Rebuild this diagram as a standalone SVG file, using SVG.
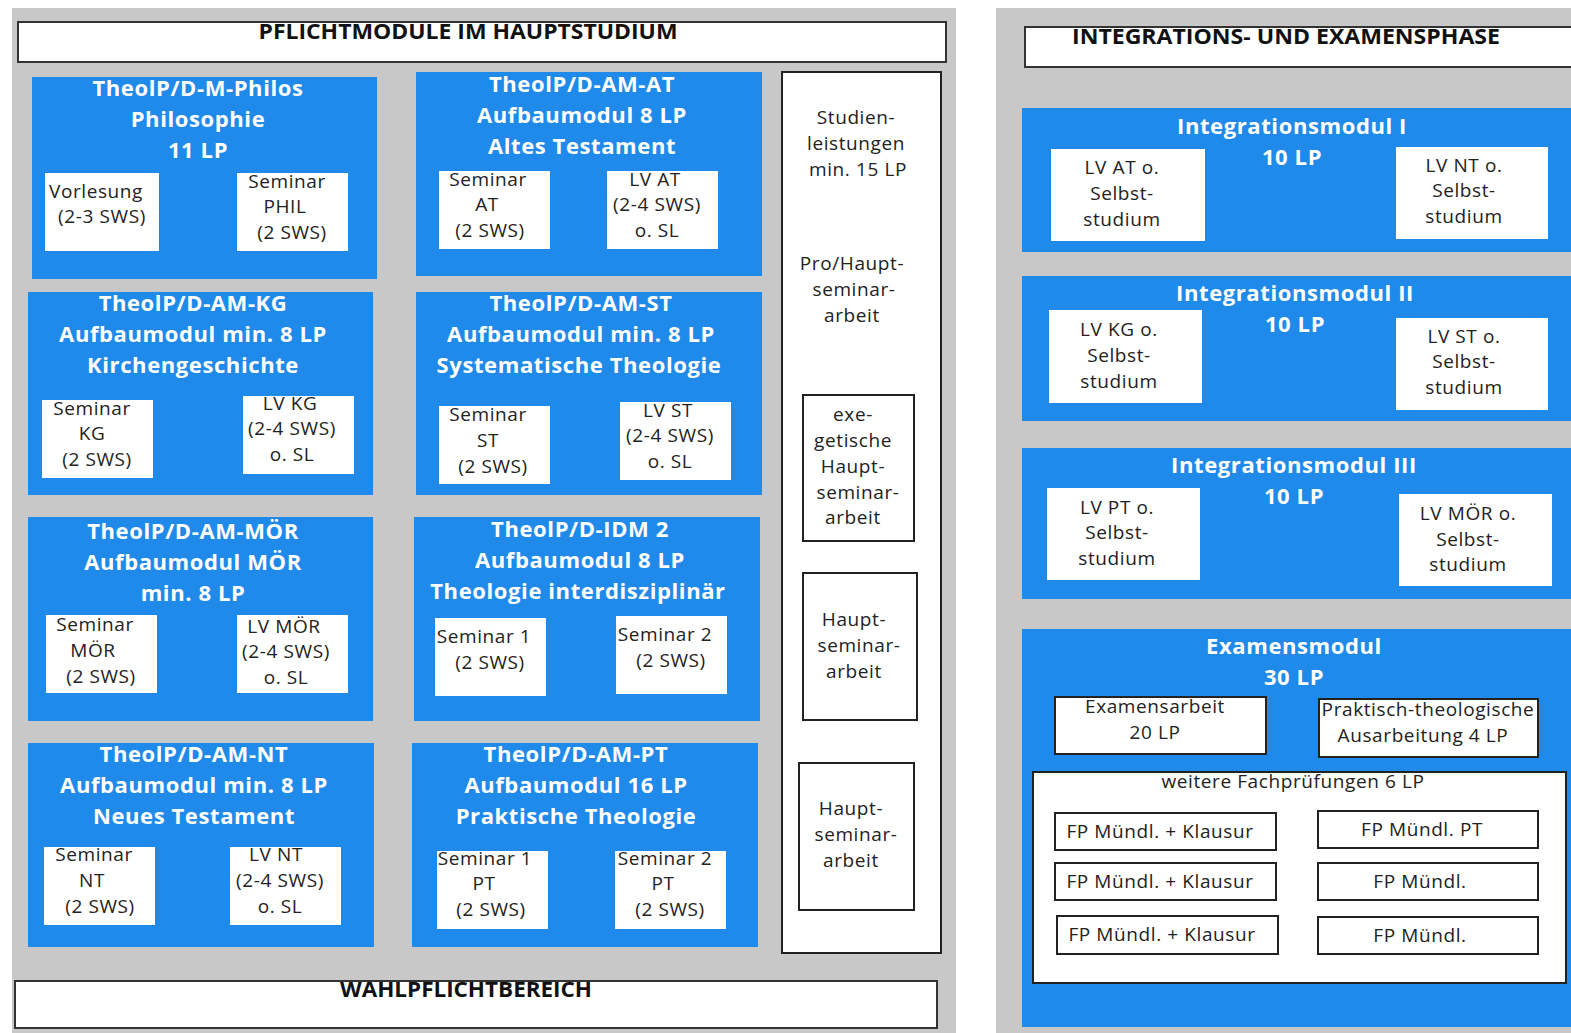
<svg xmlns="http://www.w3.org/2000/svg" width="1571" height="1033" viewBox="0 0 1571 1033">
<style>
.bg{fill:#c8c8c8}
.hdr{fill:#fff;stroke:#333;stroke-width:2}
.mod{fill:#1f8aea}
.wb{fill:#fff}
.bb{fill:#fff;stroke:#222;stroke-width:2}
text{font-family:"Open Sans","Liberation Sans",sans-serif;text-anchor:middle}
.ht{font-size:22px;font-weight:bold;fill:#111}
.mt{font-size:22px;font-weight:bold;fill:#fff;letter-spacing:0.6px}
.st{font-size:19px;fill:#222;letter-spacing:0.6px}
</style>
<rect width="1571" height="1033" fill="#fff"/>
<rect class="bg" x="12" y="8" width="944" height="1025"/>
<rect class="bg" x="996" y="8" width="575" height="1025"/>

<g id="header-pflicht">
<rect class="hdr" x="18" y="22" width="928" height="40"/>
<text class="ht" x="468" y="39" textLength="419" lengthAdjust="spacingAndGlyphs">PFLICHTMODULE IM HAUPTSTUDIUM</text>
</g>
<g id="header-integration">
<rect class="hdr" x="1025" y="27" width="560" height="40"/>
<text class="ht" x="1286" y="44" textLength="428" lengthAdjust="spacingAndGlyphs">INTEGRATIONS- UND EXAMENSPHASE</text>
</g>
<g id="header-wahlpflicht">
<rect class="hdr" x="15" y="981" width="922" height="47"/>
<text class="ht" x="466" y="997" textLength="252" lengthAdjust="spacingAndGlyphs">WAHLPFLICHTBEREICH</text>
</g>

<g id="mod-philos">
<rect class="mod" x="32" y="77" width="345" height="202"/>
<text class="mt" x="198" y="96">TheolP/D-M-Philos</text>
<text class="mt" x="198" y="127">Philosophie</text>
<text class="mt" x="198" y="158">11 LP</text>
<rect class="wb" x="45" y="173" width="114" height="78"/>
<text class="st" x="96" y="198">Vorlesung</text>
<text class="st" x="102" y="223">(2-3 SWS)</text>
<rect class="wb" x="237" y="173" width="111" height="78"/>
<text class="st" x="287" y="188">Seminar</text>
<text class="st" x="285" y="213">PHIL</text>
<text class="st" x="292" y="239">(2 SWS)</text>
</g>

<g id="mod-at">
<rect class="mod" x="416" y="72" width="346" height="204"/>
<text class="mt" x="582" y="92">TheolP/D-AM-AT</text>
<text class="mt" x="582" y="123">Aufbaumodul  8 LP</text>
<text class="mt" x="582" y="154">Altes Testament</text>
<rect class="wb" x="439" y="171" width="111" height="78"/>
<text class="st" x="488" y="186">Seminar</text>
<text class="st" x="487" y="211">AT</text>
<text class="st" x="490" y="237">(2 SWS)</text>
<rect class="wb" x="607" y="171" width="111" height="78"/>
<text class="st" x="655" y="186">LV AT</text>
<text class="st" x="657" y="211">(2-4 SWS)</text>
<text class="st" x="657" y="237">o. SL</text>
</g>

<g id="mod-kg">
<rect class="mod" x="28" y="292" width="345" height="203"/>
<text class="mt" x="193" y="311">TheolP/D-AM-KG</text>
<text class="mt" x="193" y="342">Aufbaumodul min. 8 LP</text>
<text class="mt" x="193" y="373">Kirchengeschichte</text>
<rect class="wb" x="42" y="400" width="111" height="78"/>
<text class="st" x="92" y="415">Seminar</text>
<text class="st" x="92" y="440">KG</text>
<text class="st" x="97" y="466">(2 SWS)</text>
<rect class="wb" x="243" y="396" width="111" height="78"/>
<text class="st" x="290" y="410">LV KG</text>
<text class="st" x="292" y="435">(2-4 SWS)</text>
<text class="st" x="292" y="461">o. SL</text>
</g>

<g id="mod-st">
<rect class="mod" x="416" y="292" width="346" height="203"/>
<text class="mt" x="581" y="311">TheolP/D-AM-ST</text>
<text class="mt" x="581" y="342">Aufbaumodul min. 8 LP</text>
<text class="mt" x="579" y="373">Systematische Theologie</text>
<rect class="wb" x="439" y="406" width="111" height="78"/>
<text class="st" x="488" y="421">Seminar</text>
<text class="st" x="488" y="447">ST</text>
<text class="st" x="493" y="473">(2 SWS)</text>
<rect class="wb" x="620" y="402" width="111" height="78"/>
<text class="st" x="668" y="417">LV ST</text>
<text class="st" x="670" y="442">(2-4 SWS)</text>
<text class="st" x="670" y="468">o. SL</text>
</g>

<g id="mod-moer">
<rect class="mod" x="28" y="517" width="345" height="204"/>
<text class="mt" x="193" y="539">TheolP/D-AM-MÖR</text>
<text class="mt" x="193" y="570">Aufbaumodul MÖR</text>
<text class="mt" x="193" y="601">min. 8 LP</text>
<rect class="wb" x="46" y="615" width="111" height="78"/>
<text class="st" x="95" y="631">Seminar</text>
<text class="st" x="93" y="657">MÖR</text>
<text class="st" x="101" y="683">(2 SWS)</text>
<rect class="wb" x="237" y="615" width="111" height="78"/>
<text class="st" x="284" y="633">LV MÖR</text>
<text class="st" x="286" y="658">(2-4 SWS)</text>
<text class="st" x="286" y="684">o. SL</text>
</g>

<g id="mod-idm">
<rect class="mod" x="414" y="517" width="346" height="204"/>
<text class="mt" x="580" y="537">TheolP/D-IDM 2</text>
<text class="mt" x="580" y="568">Aufbaumodul  8 LP</text>
<text class="mt" x="578" y="599">Theologie interdisziplinär</text>
<rect class="wb" x="435" y="618" width="111" height="78"/>
<text class="st" x="484" y="643">Seminar 1</text>
<text class="st" x="490" y="669">(2 SWS)</text>
<rect class="wb" x="616" y="616" width="111" height="78"/>
<text class="st" x="665" y="641">Seminar 2</text>
<text class="st" x="671" y="667">(2 SWS)</text>
</g>

<g id="mod-nt">
<rect class="mod" x="28" y="743" width="346" height="204"/>
<text class="mt" x="194" y="762">TheolP/D-AM-NT</text>
<text class="mt" x="194" y="793">Aufbaumodul min. 8 LP</text>
<text class="mt" x="194" y="824">Neues Testament</text>
<rect class="wb" x="44" y="847" width="111" height="78"/>
<text class="st" x="94" y="861">Seminar</text>
<text class="st" x="92" y="887">NT</text>
<text class="st" x="100" y="913">(2 SWS)</text>
<rect class="wb" x="230" y="847" width="111" height="78"/>
<text class="st" x="276" y="861">LV NT</text>
<text class="st" x="280" y="887">(2-4 SWS)</text>
<text class="st" x="280" y="913">o. SL</text>
</g>

<g id="mod-pt">
<rect class="mod" x="412" y="743" width="346" height="204"/>
<text class="mt" x="576" y="762">TheolP/D-AM-PT</text>
<text class="mt" x="576" y="793">Aufbaumodul 16 LP</text>
<text class="mt" x="576" y="824">Praktische Theologie</text>
<rect class="wb" x="437" y="851" width="111" height="78"/>
<text class="st" x="485" y="865">Seminar 1</text>
<text class="st" x="484" y="890">PT</text>
<text class="st" x="491" y="916">(2 SWS)</text>
<rect class="wb" x="615" y="851" width="111" height="78"/>
<text class="st" x="665" y="865">Seminar 2</text>
<text class="st" x="663" y="890">PT</text>
<text class="st" x="670" y="916">(2 SWS)</text>
</g>

<g id="studienleistungen">
<rect class="bb" x="782" y="72" width="159" height="881"/>
<text class="st" x="856" y="124">Studien-</text>
<text class="st" x="856" y="150">leistungen</text>
<text class="st" x="858" y="176">min. 15 LP</text>
<text class="st" x="852" y="270">Pro/Haupt-</text>
<text class="st" x="854" y="296">seminar-</text>
<text class="st" x="852" y="322">arbeit</text>
</g>
<g id="hs-exeg">
<rect class="bb" x="803" y="395" width="111" height="146"/>
<text class="st" x="853" y="421">exe-</text>
<text class="st" x="853" y="447">getische</text>
<text class="st" x="853" y="473">Haupt-</text>
<text class="st" x="858" y="499">seminar-</text>
<text class="st" x="853" y="524">arbeit</text>
</g>
<g id="hs-2">
<rect class="bb" x="803" y="573" width="114" height="147"/>
<text class="st" x="854" y="626">Haupt-</text>
<text class="st" x="859" y="652">seminar-</text>
<text class="st" x="854" y="678">arbeit</text>
</g>
<g id="hs-3">
<rect class="bb" x="799" y="763" width="115" height="147"/>
<text class="st" x="851" y="815">Haupt-</text>
<text class="st" x="856" y="841">seminar-</text>
<text class="st" x="851" y="867">arbeit</text>
</g>

<g id="int-1">
<rect class="mod" x="1022" y="108" width="549" height="144"/>
<text class="mt" x="1292" y="134">Integrationsmodul I</text>
<text class="mt" x="1292" y="165">10 LP</text>
<rect class="wb" x="1051" y="149" width="154" height="92"/>
<text class="st" x="1122" y="174">LV AT o.</text>
<text class="st" x="1122" y="200">Selbst-</text>
<text class="st" x="1122" y="226">studium</text>
<rect class="wb" x="1396" y="147" width="152" height="92"/>
<text class="st" x="1464" y="172">LV NT o.</text>
<text class="st" x="1464" y="197">Selbst-</text>
<text class="st" x="1464" y="223">studium</text>
</g>
<g id="int-2">
<rect class="mod" x="1022" y="276" width="549" height="145"/>
<text class="mt" x="1295" y="301">Integrationsmodul II</text>
<text class="mt" x="1295" y="332">10 LP</text>
<rect class="wb" x="1049" y="310" width="153" height="93"/>
<text class="st" x="1119" y="336">LV KG o.</text>
<text class="st" x="1119" y="362">Selbst-</text>
<text class="st" x="1119" y="388">studium</text>
<rect class="wb" x="1396" y="318" width="152" height="92"/>
<text class="st" x="1464" y="343">LV ST o.</text>
<text class="st" x="1464" y="368">Selbst-</text>
<text class="st" x="1464" y="394">studium</text>
</g>
<g id="int-3">
<rect class="mod" x="1022" y="448" width="549" height="151"/>
<text class="mt" x="1294" y="473">Integrationsmodul III</text>
<text class="mt" x="1294" y="504">10 LP</text>
<rect class="wb" x="1047" y="488" width="153" height="92"/>
<text class="st" x="1117" y="514">LV PT o.</text>
<text class="st" x="1117" y="539">Selbst-</text>
<text class="st" x="1117" y="565">studium</text>
<rect class="wb" x="1399" y="494" width="153" height="92"/>
<text class="st" x="1468" y="520">LV MÖR o.</text>
<text class="st" x="1468" y="546">Selbst-</text>
<text class="st" x="1468" y="571">studium</text>
</g>
<g id="examen">
<rect class="mod" x="1022" y="629" width="549" height="398"/>
<text class="mt" x="1294" y="654">Examensmodul</text>
<text class="mt" x="1294" y="685">30 LP</text>
<rect class="bb" x="1055" y="697" width="211" height="57"/>
<text class="st" x="1155" y="713">Examensarbeit</text>
<text class="st" x="1155" y="739">20 LP</text>
<rect class="bb" x="1319" y="699" width="219" height="58"/>
<text class="st" x="1428" y="716">Praktisch-theologische</text>
<text class="st" x="1423" y="742">Ausarbeitung 4 LP</text>
<rect class="bb" x="1033" y="772" width="533" height="211"/>
<text class="st" x="1293" y="788">weitere Fachprüfungen 6 LP</text>
<rect class="bb" x="1055" y="813" width="221" height="37"/>
<text class="st" x="1160" y="838">FP Mündl. + Klausur</text>
<rect class="bb" x="1055" y="863" width="221" height="37"/>
<text class="st" x="1160" y="888">FP Mündl. + Klausur</text>
<rect class="bb" x="1057" y="916" width="221" height="38"/>
<text class="st" x="1162" y="941">FP Mündl. + Klausur</text>
<rect class="bb" x="1318" y="811" width="220" height="37"/>
<text class="st" x="1422" y="836">FP Mündl. PT</text>
<rect class="bb" x="1318" y="863" width="220" height="37"/>
<text class="st" x="1420" y="888">FP Mündl.</text>
<rect class="bb" x="1318" y="917" width="220" height="37"/>
<text class="st" x="1420" y="942">FP Mündl.</text>
</g>
<g id="connectors"></g>
</svg>
